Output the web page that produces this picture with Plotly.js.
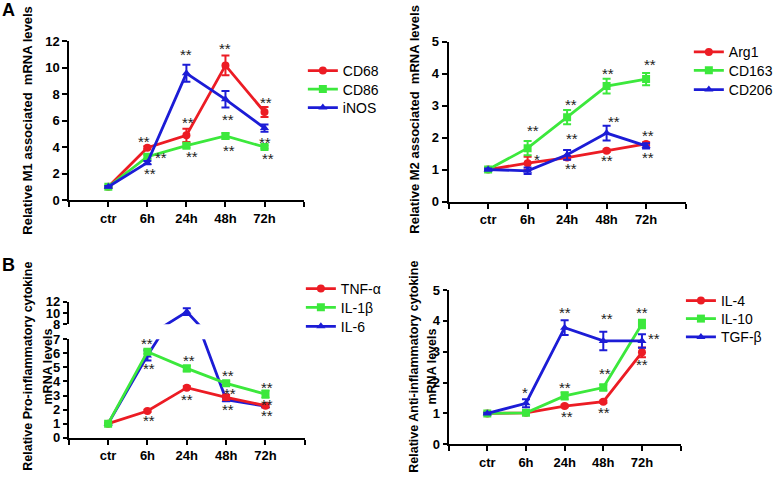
<!DOCTYPE html>
<html>
<head>
<meta charset="utf-8">
<script src="https://cdn.plot.ly/plotly-3.0.1.min.js"></script>
<style>html,body{margin:0;padding:0;background:#fff;}#chart{width:778px;height:477px;}</style>
</head>
<body>
<div id="chart"></div>
<script>
// ---------- data ----------
const categories = ['ctr', '6h', '24h', '48h', '72h'];

// Panel A (left): M1 markers
const cd68 = [1.0, 3.95, 4.88, 10.16, 6.64];
const cd68Err = [0.05, 0.1, 0.5, 0.75, 0.38];
const cd86 = [1.0, 3.27, 4.1, 4.83, 4.0];
const cd86Err = [0.05, 0.15, 0.15, 0.2, 0.12];
const inos = [1.0, 2.82, 9.56, 7.6, 5.43];
const inosErr = [0.05, 0.12, 0.64, 0.62, 0.27];

// Panel A (right): M2 markers
const arg1 = [1.0, 1.2, 1.375, 1.59, 1.8];
const arg1Err = [0.03, 0.2, 0.05, 0.04, 0.05];
const cd163 = [1.0, 1.67, 2.64, 3.61, 3.83];
const cd163Err = [0.03, 0.22, 0.22, 0.23, 0.19];
const cd206 = [1.0, 0.96, 1.46, 2.14, 1.74];
const cd206Err = [0.03, 0.1, 0.15, 0.23, 0.08];

// Panel B (left): pro-inflammatory cytokines
const tnfa = [1.0, 1.9, 3.56, 2.87, 2.28];
const tnfaErr = [0.05, 0.08, 0.1, 0.18, 0.12];
const il1b = [1.0, 6.12, 4.93, 3.87, 3.1];
const il1bErr = [0.05, 0.15, 0.2, 0.12, 0.25];
const il6 = [1.0, 5.85, 10.23, 2.7, 2.25];
const il6Err = [0.05, 0.35, 0.6, 0.1, 0.1];

// Panel B (right): anti-inflammatory cytokines
const il4 = [1.0, 1.02, 1.24, 1.38, 2.98];
const il4Err = [0.02, 0.03, 0.04, 0.04, 0.16];
const il10 = [1.0, 1.02, 1.57, 1.84, 3.9];
const il10Err = [0.02, 0.03, 0.12, 0.1, 0.14];
const tgfb = [1.0, 1.33, 3.78, 3.35, 3.35];
const tgfbErr = [0.02, 0.13, 0.24, 0.3, 0.22];

// significance labels: [x position (category index), y value, text]
const starsA1 = [[0.92,4.66,'**'],[1.07,2.26,'**'],[1.34,3.45,'**'],[2.0,11.19,'**'],[2.03,6.11,'**'],[2.15,3.52,'**'],
                 [3.0,11.65,'**'],[3.07,6.29,'**'],[3.1,3.98,'**'],[4.05,7.62,'**'],[4.0,4.6,'**'],[4.09,3.34,'**']];
const starsA2 = [[1.13,2.32,'**'],[1.24,1.42,'*'],[2.09,3.12,'**'],[2.13,2.05,'**'],[2.09,1.14,'**'],[3.03,4.09,'**'],
                 [3.18,2.61,'**'],[3.01,1.38,'**'],[4.11,4.39,'**'],[4.04,2.16,'**'],[4.04,1.48,'**']];
const starsB1 = [[1.0,6.9,'**'],[1.04,5.12,'**'],[1.04,1.42,'**'],[2.05,5.72,'**'],[2.01,2.92,'**'],[3.04,4.62,'**'],
                 [3.1,3.39,'**'],[3.04,2.2,'**'],[4.04,3.82,'**'],[4.04,2.56,'**'],[4.03,1.81,'**']];
const starsB1upper = [[2.01,12.18,'**']];
const starsB2 = [[0.98,1.76,'*'],[2.0,4.38,'**'],[2.0,1.94,'**'],[2.06,1.0,'**'],[3.09,4.16,'**'],[3.04,2.38,'**'],
                 [3.01,1.13,'**'],[4.01,4.38,'**'],[4.31,3.51,'**'],[4.01,2.68,'**']];

// ---------- styling ----------
const W = 778, H = 477;
const RED = '#EC1C24', GREEN = '#3CE83C', BLUE = '#1C1CD6';
const FONT = 'Arial, "Liberation Sans", Helvetica, sans-serif';
const xi = categories.map((c, i) => i);
const px = v => v / W;
const py = v => 1 - v / H;

function trace(name, y, err, color, symbol, xa, ya, legend, show) {
  return {
    type: 'scatter', mode: 'lines+markers', name: name,
    x: xi, y: y, xaxis: xa, yaxis: ya, legend: legend, showlegend: show,
    line: {color: color, width: 2.8},
    marker: {color: color, symbol: symbol, size: 8},
    error_y: {type: 'data', array: err, visible: true, color: color, thickness: 2, width: 4},
    hoverinfo: 'skip'
  };
}

const data = [
  trace('CD68', cd68, cd68Err, RED, 'circle', 'x', 'y', 'legend', true),
  trace('CD86', cd86, cd86Err, GREEN, 'square', 'x', 'y', 'legend2', true),
  trace('iNOS', inos, inosErr, BLUE, 'triangle-up', 'x', 'y', 'legend3', true),

  trace('Arg1', arg1, arg1Err, RED, 'circle', 'x2', 'y2', 'legend4', true),
  trace('CD163', cd163, cd163Err, GREEN, 'square', 'x2', 'y2', 'legend5', true),
  trace('CD206', cd206, cd206Err, BLUE, 'triangle-up', 'x2', 'y2', 'legend6', true),

  trace('IL-6', il6, il6Err, BLUE, 'triangle-up', 'x3', 'y3', 'legend9', false),
  trace('TNF-α', tnfa, tnfaErr, RED, 'circle', 'x3', 'y3', 'legend7', true),
  trace('IL-1β', il1b, il1bErr, GREEN, 'square', 'x3', 'y3', 'legend8', true),
  trace('IL-6', il6, il6Err, BLUE, 'triangle-up', 'x3', 'y5', 'legend9', true),

  trace('IL-4', il4, il4Err, RED, 'circle', 'x4', 'y4', 'legend10', true),
  trace('IL-10', il10, il10Err, GREEN, 'square', 'x4', 'y4', 'legend11', true),
  trace('TGF-β', tgfb, tgfbErr, BLUE, 'triangle-up', 'x4', 'y4', 'legend12', true)
];

const tickFont = {family: FONT, size: 13, color: '#000', weight: 'bold'};
function xaxis(d0, d1, anchor) {
  return {
    domain: [px(d0), px(d1)], anchor: anchor, range: [-1, 5],
    tickmode: 'array', tickvals: [-1, 0, 1, 2, 3, 4, 5], ticktext: [''].concat(categories, ['']),
    showline: true, linecolor: '#000', linewidth: 2, ticks: 'outside', ticklen: 5, tickwidth: 2, tickcolor: '#000',
    showgrid: false, zeroline: false, tickfont: tickFont, fixedrange: true
  };
}
function yaxis(p0, p1, anchor, range, dtick, tickvals, tl) {
  const a = {
    domain: [py(p0), py(p1)], anchor: anchor, range: range,
    showline: true, linecolor: '#000', linewidth: 2, ticks: 'outside', ticklen: tl || 5, tickwidth: 2, tickcolor: '#000',
    showgrid: false, zeroline: false, tickfont: tickFont, fixedrange: true
  };
  if (tickvals) { a.tickmode = 'array'; a.tickvals = tickvals; } else { a.dtick = dtick; a.tick0 = 0; }
  return a;
}

const annotations = [];
function addStars(list, xref, yref) {
  list.forEach(s => annotations.push({
    x: s[0], y: s[1], xref: xref, yref: yref, text: s[2], showarrow: false,
    font: {family: FONT, size: 15, color: '#222'}, xanchor: 'center', yanchor: 'middle', yshift: -3
  }));
}
addStars(starsA1, 'x', 'y');
addStars(starsA2, 'x2', 'y2');
addStars(starsB1, 'x3', 'y3');
addStars(starsB1upper, 'x3', 'y5');
addStars(starsB2, 'x4', 'y4');

function ytitle(text, cx, cy, size) {
  annotations.push({
    x: px(cx), y: py(cy), xref: 'paper', yref: 'paper', text: text, textangle: -90, showarrow: false,
    font: {family: FONT, size: size, color: '#000', weight: 'bold'}, xanchor: 'center', yanchor: 'middle'
  });
}
ytitle('Relative M1 associated  mRNA levels', 28, 120, 13);
ytitle('Relative M2 associated  mRNA levels', 418, 119, 13);
ytitle('Relative Pro-inflammatory cytokine', 28, 366, 12.5);
ytitle('mRNA levels', 49, 366, 12.5);
ytitle('Relative Anti-inflammatory cytokine', 418, 367, 12.5);
ytitle('mRNA levels', 436, 367, 12.5);

function panelLabel(t, cx, cy) {
  annotations.push({x: px(cx), y: py(cy), xref: 'paper', yref: 'paper', text: t, showarrow: false,
    font: {family: FONT, size: 18, color: '#000', weight: 'bold'}, xanchor: 'center', yanchor: 'middle'});
}
panelLabel('A', 9, 10);
panelLabel('B', 9, 265);

// one legend per entry, text starting at xpx, row centred at ypx
function legend(textX, rowY) {
  return {x: px(textX - 39), y: py(rowY), xanchor: 'left', yanchor: 'middle', bgcolor: 'rgba(0,0,0,0)',
    font: {family: FONT, size: 14, color: '#000'}, borderwidth: 0};
}

const layout = {
  width: W, height: H, margin: {l: 0, r: 0, t: 0, b: 0},
  paper_bgcolor: '#fff', plot_bgcolor: '#fff', showlegend: true,
  font: {family: FONT, color: '#000'},
  xaxis: xaxis(70, 306.7, 'y'),
  yaxis: yaxis(200, 41, 'x', [0, 12], 2),
  xaxis2: xaxis(453.3, 692.7, 'y2'),
  yaxis2: yaxis(201.5, 41.7, 'x2', [0, 5], 1),
  xaxis3: xaxis(69.5, 308, 'y3'),
  yaxis3: yaxis(437.7, 339.3, 'x3', [0, 7], 1, null, 4),
  yaxis5: yaxis(324.3, 301.7, 'x3', [8, 12], null, [8, 10, 12], 4),
  xaxis4: xaxis(453.3, 687.7, 'y4'),
  yaxis4: yaxis(444.3, 290, 'x4', [0, 5], 1, null, 4),
  legend: legend(345, 71),
  legend2: legend(345, 89.5),
  legend3: legend(345, 108),
  legend4: legend(735, 52.3),
  legend5: legend(735, 70.7),
  legend6: legend(735, 90),
  legend7: legend(343, 289),
  legend8: legend(343, 307.7),
  legend9: legend(343, 326.7),
  legend10: legend(727, 301),
  legend11: legend(727, 319),
  legend12: legend(727, 337.3),
  annotations: annotations
};

Plotly.newPlot('chart', data, layout, {staticPlot: true, displayModeBar: false});
</script>
</body>
</html>
